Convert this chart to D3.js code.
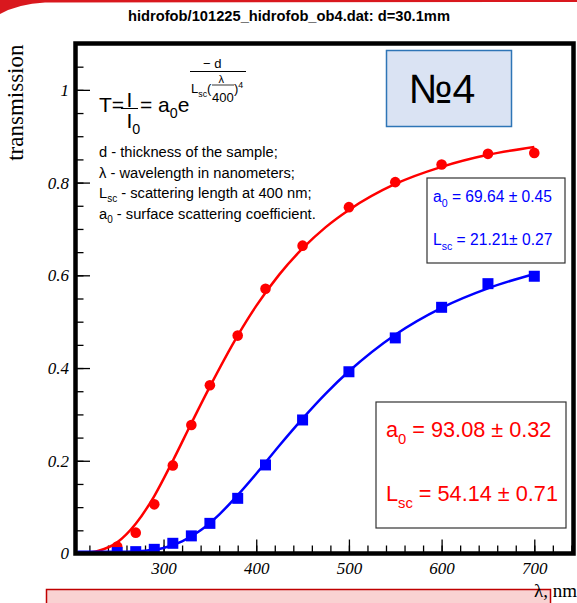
<!DOCTYPE html>
<html>
<head>
<meta charset="utf-8">
<script src="https://cdn.jsdelivr.net/npm/d3@7"></script>
<style>
	body { margin: 0; background: #fff; }
	svg { display: block; }
</style>
</head>
<body>
<div id="chart"></div>
<script>

// Measured points (wavelength in nm, transmission)
var wavelengths = [250, 270, 290, 310, 330, 350, 380, 410, 450, 500, 550, 600, 650, 700];
var redValues = [0.015, 0.045, 0.106, 0.190, 0.277, 0.363, 0.470, 0.571, 0.664, 0.747, 0.801, 0.839, 0.862, 0.864];
var blueValues = [0.002, 0.004, 0.009, 0.022, 0.038, 0.065, 0.119, 0.191, 0.288, 0.392, 0.465, 0.531, 0.582, 0.598];

// Fit curves
var redFitWl = [215, 230, 250, 270, 290, 310, 330, 350, 380, 400, 425, 450, 475, 500, 550, 600, 650, 700];
var redFitValues = [0.001, 0.006, 0.024, 0.064, 0.124, 0.200, 0.281, 0.360, 0.470, 0.534, 0.602, 0.658, 0.704, 0.741, 0.797, 0.834, 0.860, 0.877];
var blueFitWl = [207, 240, 260, 280, 300, 320, 340, 360, 380, 400, 425, 450, 475, 500, 550, 600, 650, 700];
var blueFitValues = [0.000, 0.000, 0.000, 0.002, 0.008, 0.022, 0.046, 0.080, 0.122, 0.168, 0.229, 0.287, 0.341, 0.389, 0.468, 0.526, 0.568, 0.599];

var xTicks = [300, 400, 500, 600, 700];
var xMinorTicks = d3.range(220, 741, 20);
var yTicks = [0, 0.2, 0.4, 0.6, 0.8, 1];
var yTickLabels = ["0", "0.2", "0.4", "0.6", "0.8", "1"];
var yMinorTicks = d3.range(0.05, 1.1, 0.05);

var titleText = "hidrofob/101225_hidrofob_ob4.dat: d=30.1mm";
var redFit = { a0: "93.08", a0err: "0.32", lsc: "54.14", lscerr: "0.71" };
var blueFit = { a0: "69.64", a0err: "0.45", lsc: "21.21", lscerr: "0.27" };

var sans = "'Liberation Sans', Arial, Helvetica, sans-serif";
var serif = "'Liberation Serif', 'Times New Roman', serif";

var width = 577, height = 603;
var frame = { left: 75.5, top: 43.5, right: 573.5, bottom: 553.5 };

var svg = d3.select("#chart").append("svg")
	.attr("width", width)
	.attr("height", height);

// slide decoration at the top
svg.append("path")
	.attr("d", "M0,0 L577,0 L577,2 L45,2.5 Q18,4 0,14 Z")
	.attr("fill", "#d9181e");

// Scales
var xScale = d3.scaleLinear().domain([205, 742.3]).range([frame.left, frame.right]);
var yScale = d3.scaleLinear().domain([0, 1.1]).range([frame.bottom, frame.top]);

// Title
svg.append("text")
	.attr("x", 289)
	.attr("y", 21)
	.attr("text-anchor", "middle")
	.style("font-family", sans)
	.style("font-weight", "bold")
	.style("font-size", "14.7px")
	.text(titleText);

// Frame background
svg.append("rect")
	.attr("x", frame.left).attr("y", frame.top)
	.attr("width", frame.right - frame.left).attr("height", frame.bottom - frame.top)
	.attr("fill", "#fff");

// X axis (ticks pointing up into the frame)
var xAxis = d3.axisBottom(xScale).tickValues(xTicks).tickSize(-14).tickPadding(8.5).tickFormat(d3.format("d"));
var xMinor = d3.axisBottom(xScale).tickValues(xMinorTicks).tickSize(-8).tickFormat("");
var gx = svg.append("g").attr("transform", "translate(0," + frame.bottom + ")");
gx.call(xMinor);
gx.append("g").call(xAxis);

// Y axis (ticks pointing right)
var yAxis = d3.axisLeft(yScale).tickValues(yTicks).tickSize(-14.5).tickPadding(6.5)
	.tickFormat(function(d, i) { return yTickLabels[i]; });
var yMinor = d3.axisLeft(yScale).tickValues(yMinorTicks).tickSize(-8).tickFormat("");
var gy = svg.append("g").attr("transform", "translate(" + frame.left + ",0)");
gy.call(yMinor);
gy.append("g").call(yAxis);

svg.selectAll(".domain").remove();
svg.selectAll(".tick line").attr("stroke", "#000").attr("stroke-width", 1.3);
svg.selectAll(".tick text")
	.attr("fill", "#000")
	.style("font-family", serif)
	.style("font-style", "italic")
	.style("font-size", "17px");

// Axis titles
svg.append("text")
	.attr("transform", "translate(23," + (frame.top + 1) + ") rotate(-90)")
	.attr("text-anchor", "end")
	.style("font-family", serif)
	.style("font-size", "23px")
	.text("transmission");

// Clip for curves
svg.append("clipPath").attr("id", "clip")
	.append("rect")
	.attr("x", frame.left).attr("y", frame.top)
	.attr("width", frame.right - frame.left).attr("height", frame.bottom - frame.top);

var plot = svg.append("g").attr("clip-path", "url(#clip)");

var line = d3.line()
	.x(function(d) { return xScale(d[0]); })
	.y(function(d) { return yScale(d[1]); })
	.curve(d3.curveMonotoneX);

// Markers
plot.selectAll(".red-dot")
	.data(d3.zip(wavelengths, redValues))
	.enter().append("circle")
	.attr("class", "red-dot")
	.attr("cx", function(d) { return xScale(d[0]); })
	.attr("cy", function(d) { return yScale(d[1]); })
	.attr("r", 5.3)
	.attr("fill", "#ff0000");

var sq = 11;
plot.selectAll(".blue-sq")
	.data(d3.zip(wavelengths, blueValues))
	.enter().append("rect")
	.attr("class", "blue-sq")
	.attr("x", function(d) { return xScale(d[0]) - sq / 2; })
	.attr("y", function(d) { return yScale(d[1]) - sq / 2; })
	.attr("width", sq).attr("height", sq)
	.attr("fill", "#0000ff");

// Fit lines
plot.append("path")
	.datum(d3.zip(redFitWl, redFitValues))
	.attr("d", line)
	.attr("fill", "none")
	.attr("stroke", "#ff0000")
	.attr("stroke-width", 2.5);

plot.append("path")
	.datum(d3.zip(blueFitWl, blueFitValues).map(function(d) { return [d[0], d[1] + 0.004]; }))
	.attr("d", line)
	.attr("fill", "none")
	.attr("stroke", "#0000ff")
	.attr("stroke-width", 2.5);

// Frame
svg.append("rect")
	.attr("x", frame.left).attr("y", frame.top)
	.attr("width", frame.right - frame.left).attr("height", frame.bottom - frame.top)
	.attr("fill", "none")
	.attr("stroke", "#000")
	.attr("stroke-width", 4.5);

// helper: text with sub/superscripts
function richText(x, y, parts, size, color, family) {
	var t = svg.append("text")
		.attr("x", x).attr("y", y)
		.attr("fill", color || "#000")
		.style("font-family", family || sans)
		.style("font-size", size + "px");
	var shift = 0;
	parts.forEach(function(p) {
		var s = p[0], kind = p[1] || "";
		var target = kind == "sub" ? size * 0.3 : (kind == "sup" ? -size * 0.4 : 0);
		t.append("tspan")
			.attr("dy", target - shift)
			.style("font-size", kind ? (size * 0.68) + "px" : null)
			.text(s);
		shift = target;
	});
	return t;
}

// Formula block
richText(99, 111.5, [["T="]], 21);
richText(126.5, 106.5, [["I"]], 21);
svg.append("line").attr("x1", 121).attr("x2", 138).attr("y1", 108.5).attr("y2", 108.5)
	.attr("stroke", "#000").attr("stroke-width", 1);
richText(126.5, 128, [["I"], ["0", "sub"]], 21);
richText(140, 111.5, [["= a"], ["0", "sub"], ["e", ""]], 21);
// exponent
richText(203, 68, [["\u2212 d"]], 13);
svg.append("line").attr("x1", 190).attr("x2", 246).attr("y1", 71.5).attr("y2", 71.5)
	.attr("stroke", "#000").attr("stroke-width", 1);
richText(191, 93, [["L"], ["sc", "sub"], ["(", ""]], 13);
richText(218.5, 83, [["\u03bb"]], 11);
svg.append("line").attr("x1", 212).attr("x2", 234).attr("y1", 85).attr("y2", 85)
	.attr("stroke", "#000").attr("stroke-width", 0.8);
richText(212, 101.5, [["400"]], 13);
richText(234, 93, [[")"], ["4", "sup"]], 13);

// Description
var descY = [157, 177.5, 198, 218.5];
richText(99, descY[0], [["d - thickness of the sample;"]], 14.7);
richText(99, descY[1], [["\u03bb - wavelength in nanometers;"]], 14.7);
richText(99, descY[2], [["L"], ["sc", "sub"], [" - scattering length at 400 nm;", ""]], 14.7);
richText(99, descY[3], [["a"], ["0", "sub"], [" - surface scattering coefficient.", ""]], 14.7);

// №4 box
svg.append("rect")
	.attr("x", 386.5).attr("y", 50.5).attr("width", 125).attr("height", 76)
	.attr("fill", "#dae3f3").attr("stroke", "#2e75b6").attr("stroke-width", 1.5);
svg.append("text")
	.attr("x", 442).attr("y", 103)
	.attr("text-anchor", "middle")
	.style("font-family", sans)
	.style("font-size", "41px")
	.text("\u21164");

// Blue stat box
svg.append("rect")
	.attr("x", 427).attr("y", 178).attr("width", 138).attr("height", 85)
	.attr("fill", "#fff").attr("stroke", "#333").attr("stroke-width", 1.2);
richText(433, 202, [["a"], ["0", "sub"], [" = " + blueFit.a0 + " \u00b1 " + blueFit.a0err, ""]], 15.6, "#0000ff");
richText(433, 245, [["L"], ["sc", "sub"], [" = " + blueFit.lsc + "\u00b1 " + blueFit.lscerr, ""]], 15.6, "#0000ff");

// Red stat box
svg.append("rect")
	.attr("x", 376).attr("y", 402).attr("width", 190).attr("height", 126)
	.attr("fill", "#fff").attr("stroke", "#333").attr("stroke-width", 1.2);
richText(386, 437, [["a"], ["0", "sub"], [" = " + redFit.a0 + " \u00b1 " + redFit.a0err, ""]], 21.7, "#ff0000");
richText(386, 501, [["L"], ["sc", "sub"], [" = " + redFit.lsc + " \u00b1 " + redFit.lscerr, ""]], 21.7, "#ff0000");

// Pink box at the bottom
svg.append("rect")
	.attr("x", 46.5).attr("y", 589.5).attr("width", 504).attr("height", 30)
	.attr("fill", "#f9d2d2").attr("stroke", "#c00000").attr("stroke-width", 1.5);

// X axis title
svg.append("text")
	.attr("x", 577).attr("y", 597)
	.attr("text-anchor", "end")
	.style("font-family", serif)
	.style("font-size", "19px")
	.text("\u03bb, nm");

</script>
</body>
</html>
